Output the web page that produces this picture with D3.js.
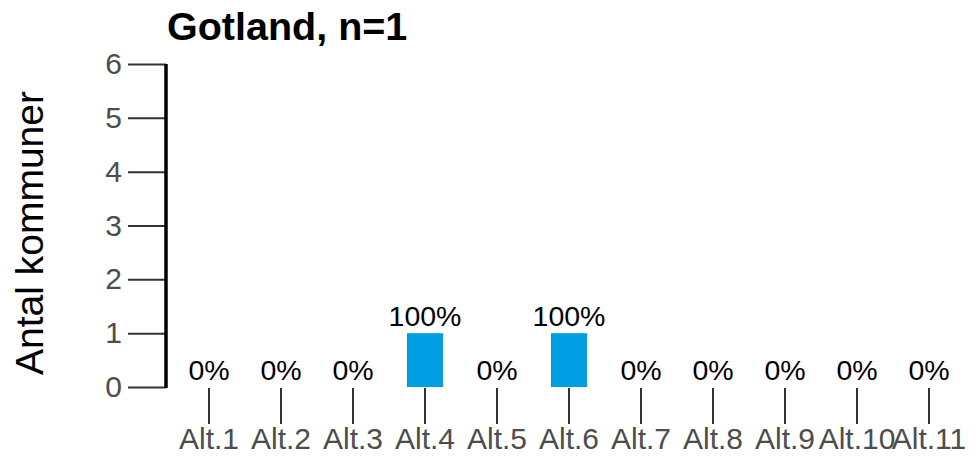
<!DOCTYPE html>
<html>
<head>
<meta charset="utf-8">
<script src="https://cdn.jsdelivr.net/npm/d3@7"></script>
<style>
  html, body { margin: 0; padding: 0; background: #fff; }
  svg { display: block; font-family: Arial, "Liberation Sans", sans-serif; }
</style>
</head>
<body>
<svg id="chart" width="976" height="464"></svg>
<script>
// Responses per alternative (number of municipalities) and their shares
const categories = ["Alt.1","Alt.2","Alt.3","Alt.4","Alt.5","Alt.6","Alt.7","Alt.8","Alt.9","Alt.10","Alt.11"];
const counts = [0, 0, 0, 1, 0, 1, 0, 0, 0, 0, 0];
const shares = ["0%","0%","0%","100%","0%","100%","0%","0%","0%","0%","0%"];
const yTicks = [0, 1, 2, 3, 4, 5, 6];
const title = "Gotland, n=1";
const yTitle = "Antal kommuner";

const svg = d3.select("#chart");

const x = d3.scaleBand()
  .domain(categories)
  .range([173, 965])
  .paddingInner(0.5)
  .paddingOuter(0.25);

const y = d3.scaleLinear().domain([0, 6]).range([387, 64]);

// Title
svg.append("text")
  .attr("x", 167)
  .attr("y", 40)
  .attr("font-size", 39.5)
  .attr("font-weight", "bold")
  .attr("fill", "#000")
  .text(title);

// Y axis title
svg.append("text")
  .attr("transform", "translate(43,233) rotate(-90)")
  .attr("text-anchor", "middle")
  .attr("font-size", 39)
  .attr("fill", "#000")
  .text(yTitle);

// Y axis: ticks and labels
const yAxis = svg.append("g")
  .attr("transform", "translate(166,0)")
  .call(d3.axisLeft(y).tickValues(yTicks).tickSize(38).tickPadding(6).tickFormat(d3.format("d")));
yAxis.select(".domain").remove();
yAxis.selectAll(".tick line").attr("stroke", "#333").attr("stroke-width", 2);
yAxis.selectAll(".tick text")
  .attr("font-size", 30)
  .attr("fill", "#4d4d4d")
  .attr("font-family", "Arial, 'Liberation Sans', sans-serif");

// Thick vertical axis line
svg.append("line")
  .attr("x1", 166).attr("x2", 166)
  .attr("y1", y(6)).attr("y2", y(0) + 1)
  .attr("stroke", "#000")
  .attr("stroke-width", 3.5);

// X axis: ticks hanging below the baseline, with labels
const xAxis = svg.append("g")
  .attr("transform", "translate(0,388)")
  .call(d3.axisBottom(x).tickSize(36).tickPadding(4));
xAxis.select(".domain").remove();
xAxis.selectAll(".tick line").attr("stroke", "#333").attr("stroke-width", 2);
xAxis.selectAll(".tick text")
  .attr("font-size", 30)
  .attr("fill", "#4d4d4d")
  .attr("font-family", "Arial, 'Liberation Sans', sans-serif");

// Bars
svg.append("g")
  .selectAll("rect")
  .data(categories)
  .join("rect")
  .attr("x", d => x(d))
  .attr("width", x.bandwidth())
  .attr("y", (d, i) => y(counts[i]))
  .attr("height", (d, i) => y(0) - y(counts[i]))
  .attr("fill", "#009fe3");

// Share labels above bars
svg.append("g")
  .selectAll("text")
  .data(categories)
  .join("text")
  .attr("x", d => x(d) + x.bandwidth() / 2)
  .attr("y", (d, i) => y(counts[i]) - 7)
  .attr("text-anchor", "middle")
  .attr("font-size", 28.5)
  .attr("fill", "#000")
  .text((d, i) => shares[i]);
</script>
</body>
</html>
